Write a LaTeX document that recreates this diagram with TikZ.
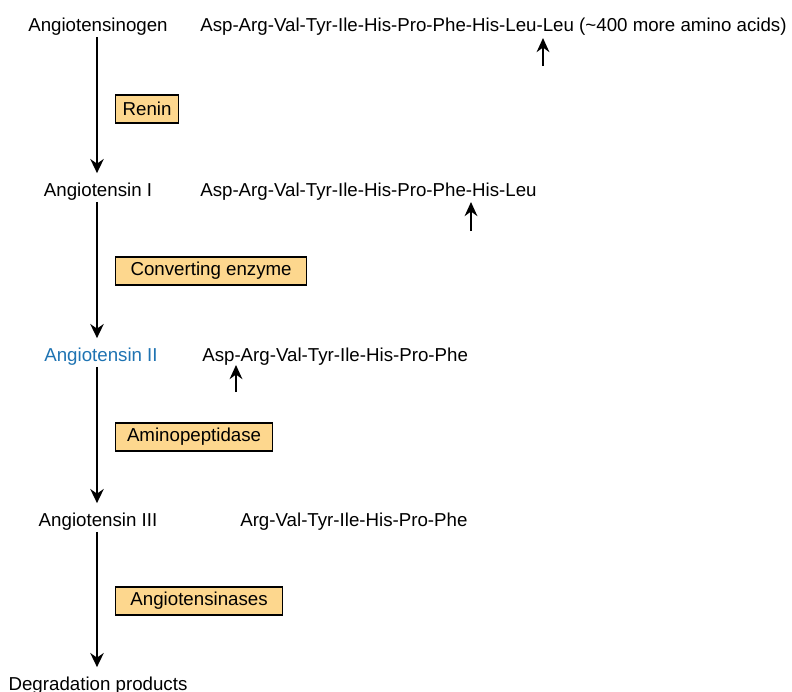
\documentclass[tikz,border=0pt]{standalone}
\usepackage{fontspec}
\setmainfont{Liberation Sans}
\usetikzlibrary{arrows.meta,positioning}
\usepackage{xcolor}
\definecolor{enzfill}{RGB}{253,215,142}
\definecolor{angblue}{RGB}{30,115,178}

\begin{document}
\begin{tikzpicture}[
  x=0.025cm, y=-0.025cm,
  every node/.style={font=\fontsize{13.3}{15}\selectfont},
  compound/.style={anchor=base, inner sep=0.05cm, text depth=0.25em},
  seq/.style={anchor=base west, inner sep=0pt},
  enzbox/.style={draw, fill=enzfill, line width=0.8pt, anchor=west,
                 minimum height=0.7cm, inner sep=0pt},
  arr/.style={-{Stealth[length=10pt,width=9.5pt]}, line width=2.1pt, shorten >=5pt},
  cut/.style={-{Stealth[length=10pt,width=9pt]}, line width=2.1pt}
]
\useasboundingbox (0,0) rectangle (792,692);

%% Compounds down the left, one every 165px
\node[compound] (agen) at (98, 31)  {Angiotensinogen};
\node[compound] (ang1) at (98,196)  {Angiotensin I};
\node[compound, text=angblue] (ang2) at (101,361) {Angiotensin II};
\node[compound] (ang3) at (98,526)  {Angiotensin III};
\node[compound] (degr) at (98,690)  {Degradation products};

%% Amino acid sequences
\node[seq] (sq0) at (200, 31) {Asp-Arg-Val-Tyr-Ile-His-Pro-Phe-His-Leu-Leu (\textasciitilde400 more amino acids)};
\node[seq] (sq1) at (200,196) {Asp-Arg-Val-Tyr-Ile-His-Pro-Phe-His-Leu};
\node[seq] (sq2) at (202,361) {Asp-Arg-Val-Tyr-Ile-His-Pro-Phe};
\node[seq] (sq3) at (240,526) {Arg-Val-Tyr-Ile-His-Pro-Phe};

%% Enzymes
\node[enzbox, minimum width=1.575cm] (renin) at (115,109) {Renin};
\node[enzbox, minimum width=4.775cm] (ace)   at (115,271) {Converting enzyme};
\node[enzbox, minimum width=3.925cm] (amino) at (115,437) {Aminopeptidase};
\node[enzbox, minimum width=4.175cm] (ases)  at (115,601) {Angiotensinases};

%% Main cascade
\draw[arr] (97,0 |- agen.south) -- (97,0 |- ang1.north);
\draw[arr] (97,0 |- ang1.south) -- (97,0 |- ang2.north);
\draw[arr] (97,0 |- ang2.south) -- (97,0 |- ang3.north);
\draw[arr] (97,0 |- ang3.south) -- (97,0 |- degr.north);

%% Cleavage sites
\coordinate (cut0) at (543,38);
\coordinate (cut1) at (471,202);
\coordinate (cut2) at (236,365);
\draw[cut] (cut0 |- 0,66)  -- (cut0);
\draw[cut] (cut1 |- 0,231) -- (cut1);
\draw[cut] (cut2 |- 0,392) -- (cut2);
\end{tikzpicture}
\end{document}
